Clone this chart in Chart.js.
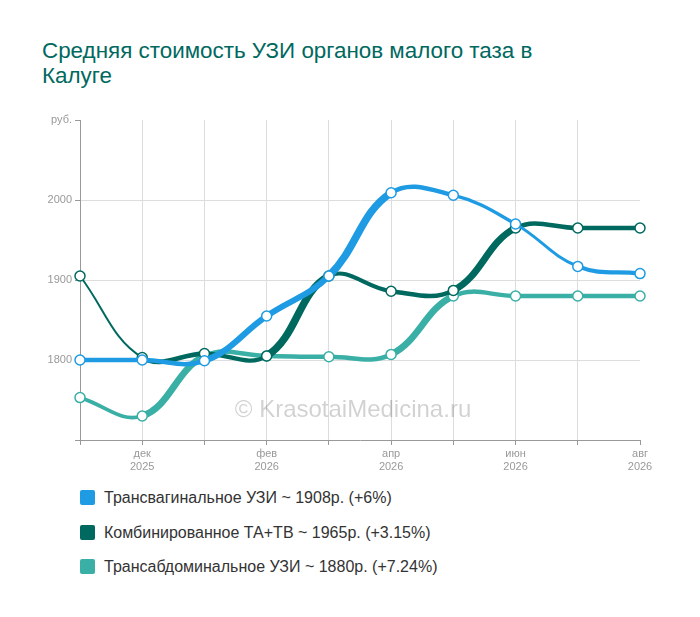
<!DOCTYPE html>
<html>
<head>
<meta charset="utf-8">
<script src="https://cdn.jsdelivr.net/npm/chart.js@4"></script>
<style>
  body { margin: 0; background: #fff; font-family: "Liberation Sans", Arial, sans-serif; }
  #wrap { position: relative; width: 700px; height: 617px; overflow: hidden; }
  #title { position: absolute; left: 42px; top: 38px; font-size: 22.4px; line-height: 25px; color: #00695f; }
  #box { position: absolute; left: 0; top: 100px; width: 700px; height: 380px; }
  #legend { position: absolute; left: 80px; top: 489px; }
  .item { height: 34.5px; display: flex; align-items: flex-start; font-size: 16px; color: #333; }
  .sw { width: 15px; height: 15px; border-radius: 2px; margin-right: 9px; margin-top: 1px; }
</style>
</head>
<body>
<div id="wrap">
  <div id="title">Средняя стоимость УЗИ органов малого таза в<br>Калуге</div>
  <div id="box"><canvas id="chart"></canvas></div>
  <div id="legend"></div>
</div>
<script>
const months = ["ноя", "дек", "янв", "фев", "мар", "апр", "май", "июн", "июл", "авг"];
const years = ["2025", "2025", "2026", "2026", "2026", "2026", "2026", "2026", "2026", "2026"];
const transvaginal = [1800, 1800, 1799, 1855, 1905, 2009, 2006, 1970, 1917, 1908];
const combined = [1905, 1803, 1808, 1805, 1905, 1886, 1887, 1965, 1965, 1965];
const transabdominal = [1753, 1730, 1805, 1805, 1804, 1807, 1880, 1880, 1880, 1880];
const seriesNames = [
  "Трансвагинальное УЗИ ~ 1908р. (+6%)",
  "Комбинированное ТА+ТВ ~ 1965р. (+3.15%)",
  "Трансабдоминальное УЗИ ~ 1880р. (+7.24%)"
];
const seriesColors = ["#1e9be3", "#00695f", "#3aafa6"];
const yTicks = [1700, 1800, 1900, 2000, 2100];

const labels = months.map((m, i) => (i % 2 === 1 ? [m, years[i]] : ""));

const legend = document.getElementById("legend");
seriesNames.forEach((name, i) => {
  const row = document.createElement("div");
  row.className = "item";
  row.innerHTML = '<span class="sw" style="background:' + seriesColors[i] + '"></span><span>' + name + "</span>";
  legend.appendChild(row);
});

const watermark = {
  id: "watermark",
  beforeDatasetsDraw(chart) {
    const { ctx, chartArea } = chart;
    ctx.save();
    ctx.font = "24px 'Liberation Sans', Arial, sans-serif";
    ctx.fillStyle = "rgba(0,0,0,0.18)";
    ctx.textAlign = "center";
    ctx.textBaseline = "middle";
    ctx.fillText("© KrasotaiMedicina.ru", (chartArea.left + chartArea.right) / 2 - 7, chartArea.bottom - 30);
    ctx.restore();
  }
};

const segWidth = (c) => {
  const d = c.p1.parsed.y - c.p0.parsed.y;
  return Math.max(2, Math.min(7.5, 4.5 + d * 0.03));
};

const makeSet = (data, i) => ({
  label: seriesNames[i],
  data: data,
  borderColor: seriesColors[i],
  backgroundColor: "#fff",
  pointBackgroundColor: "#fff",
  pointBorderColor: seriesColors[i],
  pointBorderWidth: 1.5,
  pointRadius: 5,
  tension: 0.4,
  borderCapStyle: "round",
  borderJoinStyle: "round",
  segment: { borderWidth: segWidth },
  fill: false
});

new Chart(document.getElementById("chart"), {
  type: "line",
  data: {
    labels: labels,
    datasets: [makeSet(transvaginal, 0), makeSet(combined, 1), makeSet(transabdominal, 2)]
  },
  options: {
    responsive: true,
    maintainAspectRatio: false,
    animation: false,
    layout: { padding: { left: 40, right: 60, top: 20, bottom: 0 } },
    plugins: { legend: { display: false }, tooltip: { enabled: false } },
    scales: {
      x: {
        afterFit: (s) => { s.height = 40; },
        border: { color: "#999", width: 1 },
        grid: {
          color: (c) => (c.index === months.length - 1 || c.index === 0 ? "rgba(0,0,0,0)" : "#ddd"),
          tickColor: "#999",
          tickLength: 5
        },
        ticks: {
          autoSkip: false,
          maxRotation: 0,
          color: "#999",
          font: { size: 11, family: "'Liberation Sans', Arial, sans-serif" },
          padding: 2
        }
      },
      y: {
        min: yTicks[0],
        max: yTicks[yTicks.length - 1],
        afterFit: (s) => { s.width = 40; },
        afterBuildTicks: (s) => { s.ticks = yTicks.map((v) => ({ value: v })); },
        border: { color: "#999", width: 1 },
        grid: {
          color: (c) => (c.tick && (c.tick.value === 2100 || c.tick.value === 1700) ? "rgba(0,0,0,0)" : "#ddd"),
          tickColor: "#999",
          tickLength: 5
        },
        ticks: {
          color: "#999",
          font: { size: 11, family: "'Liberation Sans', Arial, sans-serif" },
          padding: 3,
          callback: (v) => (v === 2100 ? "руб." : v === 1700 ? "" : v)
        }
      }
    }
  },
  plugins: [watermark]
});
</script>
</body>
</html>
